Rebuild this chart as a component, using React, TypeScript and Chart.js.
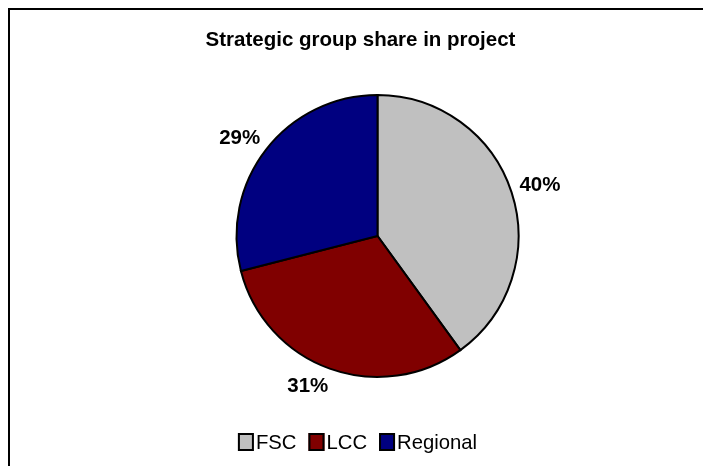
import React, { useEffect, useRef } from "react";
import { Chart, registerables } from "chart.js";

Chart.register(...registerables);

// ---- data ----
const chartTitle = "Strategic group share in project";
const categories = ["FSC", "LCC", "Regional"];
const shares = [40, 31, 29];
const sliceColors = ["#C0C0C0", "#800000", "#000080"];

const FONT = "'Liberation Sans', Arial, Helvetica, sans-serif";

const decorPlugin = {
  id: "excelDecor",
  afterDraw(chart: any, _args: any, opts: any) {
    const ctx: CanvasRenderingContext2D = chart.ctx;
    const W = chart.width;
    ctx.save();
    ctx.fillStyle = "#000";

    // title
    ctx.font = `bold ${opts.titleSize}px ${FONT}`;
    ctx.textAlign = "center";
    ctx.textBaseline = "alphabetic";
    ctx.fillText(chartTitle, W / 2 + opts.titleShiftX, opts.titleBaseline);

    // data labels (outside end)
    const meta = chart.getDatasetMeta(0);
    const data = chart.data.datasets[0].data as number[];
    const total = data.reduce((a: number, b: number) => a + b, 0);
    ctx.font = `bold ${opts.labelSize}px ${FONT}`;
    const capH = opts.labelSize * 0.716;
    meta.data.forEach((arc: any, i: number) => {
      const p = arc.getProps(["x", "y", "startAngle", "endAngle", "outerRadius"], true);
      const txt = `${Math.round((data[i] / total) * 100)}%`;
      const tw = ctx.measureText(txt).width;
      const mid = (p.startAngle + p.endAngle) / 2 + ((opts.angleNudge[i] || 0) * Math.PI) / 180;
      const c = Math.cos(mid);
      const s = Math.sin(mid);
      const proj = (tw / 2) * Math.abs(c) + (capH / 2) * Math.abs(s);
      const r = p.outerRadius + 1 + opts.labelGap + proj;
      const lx = p.x + r * c;
      const ly = p.y + r * s;
      ctx.textAlign = "center";
      ctx.textBaseline = "alphabetic";
      ctx.fillText(txt, lx, ly + capH / 2);
    });

    // legend
    ctx.font = `${opts.legendSize}px ${FONT}`;
    const bw = opts.boxW;
    const bh = opts.boxH;
    const gap = opts.boxTextGap;
    const sp = opts.itemSpacing;
    const widths = categories.map((c) => bw + gap + ctx.measureText(c).width);
    const totalW = widths.reduce((a, b) => a + b, 0) + sp * (categories.length - 1);
    let x = W / 2 + opts.legendShiftX - totalW / 2;
    const boxTop = opts.legendBoxTop;
    categories.forEach((c, i) => {
      ctx.fillStyle = sliceColors[i];
      ctx.fillRect(x, boxTop, bw, bh);
      ctx.strokeStyle = "#000";
      ctx.lineWidth = 2;
      ctx.strokeRect(x + 1, boxTop + 1, bw - 2, bh - 2);
      ctx.fillStyle = "#000";
      ctx.textAlign = "left";
      ctx.textBaseline = "alphabetic";
      ctx.fillText(c, x + bw + gap, opts.legendBaseline);
      x += widths[i] + sp;
    });
    ctx.restore();
  },
};

export default function App() {
  const ref = useRef<HTMLCanvasElement | null>(null);

  useEffect(() => {
    if (!ref.current) return;
    const chart = new Chart(ref.current, {
      type: "pie",
      data: {
        labels: categories,
        datasets: [
          {
            data: shares,
            backgroundColor: sliceColors,
            borderColor: "#000",
            borderWidth: 2,
            borderJoinStyle: "miter",
            radius: 141,
          } as any,
        ],
      },
      options: {
        responsive: false,
        animation: false,
        layout: { padding: { left: 225.5, right: 183.5, top: 84, bottom: 88 } },
        plugins: {
          legend: { display: false },
          title: { display: false },
          tooltip: { enabled: false },
          excelDecor: {
            titleSize: 20.5,
            titleShiftX: 4,
            titleBaseline: 36,
            labelSize: 20.5,
            labelGap: 7,
            angleNudge: [0, 5.3, -2],
            legendSize: 20.3,
            boxW: 16,
            boxH: 18,
            boxTextGap: 2,
            itemSpacing: 12,
            legendShiftX: 1,
            legendBoxTop: 423,
            legendBaseline: 439,
          },
        } as any,
      },
      plugins: [decorPlugin],
    });
    return () => chart.destroy();
  }, []);

  return (
    <>
      <style>{"html{overflow:hidden;background:#fff}"}</style>
      <div
        style={{
          position: "fixed",
          left: 8,
          top: 8,
          right: 0,
          bottom: 0,
          borderTop: "2px solid #000",
          borderLeft: "2px solid #000",
          background: "#fff",
          overflow: "hidden",
        }}
      >
        <canvas ref={ref} width={693} height={456} style={{ display: "block", width: 693, height: 456 }} />
      </div>
    </>
  );
}
